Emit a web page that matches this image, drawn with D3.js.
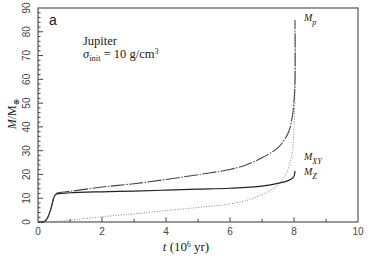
<!DOCTYPE html>
<html lang="en">
<head>
<meta charset="UTF-8">
<title>Jupiter growth</title>
<style>
  body { margin: 0; background: #fff; }
  svg { display: block; }
  .tick-label { font-family: "Liberation Sans", Arial, sans-serif; font-size: 10px; fill: #444; }
  .serif { font-family: "Liberation Serif", "DejaVu Serif", serif; fill: #222; }
</style>
</head>
<body>
<svg width="374" height="258"></svg>
<script src="https://cdn.jsdelivr.net/npm/d3@7"></script>
<script>
// data (t in 10^6 yr, mass in Earth masses)
const tP  = [0, 0.15, 0.22, 0.3, 0.38, 0.45, 0.5, 0.55, 0.62, 0.8, 1, 2, 3, 4, 5, 6, 6.5, 7, 7.3, 7.5, 7.7, 7.85, 7.95, 8.0, 8.03, 8.03];
const mP  = [0, 0, 0.4, 1.8, 4.5, 8, 10.5, 11.8, 12.3, 12.6, 12.9, 14.7, 16.1, 17.9, 19.9, 22.1, 24, 27, 29.3, 31.3, 34.5, 38.5, 44.5, 51, 58, 85];

const tZ  = [0, 0.15, 0.22, 0.3, 0.38, 0.45, 0.5, 0.55, 0.62, 0.8, 1, 2, 3, 4, 5, 6, 7, 7.5, 7.8, 7.95, 8.01, 8.03];
const mZ  = [0, 0, 0.4, 1.8, 4.5, 8, 10.5, 11.5, 11.9, 12.1, 12.3, 12.7, 13.0, 13.4, 13.8, 14.2, 15.1, 16.3, 17.3, 18.4, 19.6, 21.5];

const tXY = [0.4, 0.6, 1, 2, 3, 4, 5, 6, 6.5, 7, 7.3, 7.5, 7.7, 7.85, 7.95, 8.0, 8.03, 8.04];
const mXY = [0, 0.3, 0.8, 2.2, 3.4, 4.8, 6.1, 7.6, 9, 11.5, 13.6, 15.6, 19, 23.5, 30, 40, 55, 80];

const xTicks = [0, 2, 4, 6, 8, 10];
const yTicks = [0, 10, 20, 30, 40, 50, 60, 70, 80, 90];

const svg = d3.select('svg');
const mLeft = 38, mRight = 358, mTop = 8, mBottom = 222;

const x = d3.scaleLinear().domain([0, 10]).range([mLeft, mRight]);
const y = d3.scaleLinear().domain([0, 90]).range([mBottom, mTop]);

// frame
svg.append('rect')
  .attr('x', mLeft).attr('y', mTop)
  .attr('width', mRight - mLeft).attr('height', mBottom - mTop)
  .attr('fill', 'none').attr('stroke', '#555').attr('stroke-width', 1.2);

// x ticks (inward)
const xAxis = svg.append('g').attr('transform', `translate(0,${mBottom})`);
xAxis.selectAll('line').data(d3.range(1, 10, 1)).enter().append('line')
  .attr('x1', d => x(d)).attr('x2', d => x(d))
  .attr('y1', 0).attr('y2', d => d % 2 === 0 ? -5 : -3)
  .attr('stroke', '#444').attr('stroke-width', 1);
xAxis.selectAll('text').data(xTicks).enter().append('text')
  .attr('class', 'tick-label')
  .attr('x', d => x(d)).attr('y', 13)
  .attr('text-anchor', 'middle')
  .text(d => d);

// y ticks (inward)
const yAxis = svg.append('g').attr('transform', `translate(${mLeft},0)`);
yAxis.selectAll('line').data(d3.range(2, 90, 2)).enter().append('line')
  .attr('x1', 0).attr('x2', d => d % 10 === 0 ? 5 : 2.5)
  .attr('y1', d => y(d)).attr('y2', d => y(d))
  .attr('stroke', '#444').attr('stroke-width', 1);
yAxis.selectAll('text').data(yTicks).enter().append('text')
  .attr('class', 'tick-label')
  .attr('transform', d => `translate(-8,${y(d)}) rotate(-90)`)
  .attr('text-anchor', 'middle')
  .text(d => d);

// axis titles
const xt = svg.append('text').attr('class', 'serif')
  .attr('x', 186).attr('y', 251).attr('text-anchor', 'middle')
  .attr('font-size', 13);
xt.append('tspan').attr('font-style', 'italic').text('t');
xt.append('tspan').text(' (10');
xt.append('tspan').attr('font-size', 7.5).attr('dy', -4).text('6');
xt.append('tspan').attr('dy', 4).text(' yr)');

const yt = svg.append('text').attr('class', 'serif')
  .attr('transform', 'translate(16,114) rotate(-90)')
  .attr('text-anchor', 'middle').attr('font-size', 12);
yt.append('tspan').attr('font-style', 'italic').text('M');
yt.append('tspan').text('/M');
yt.append('tspan').attr('font-size', 8).attr('dy', 3).text('⊕');

// panel letter and annotation
svg.append('text')
  .attr('x', 49).attr('y', 25)
  .attr('font-family', '"Liberation Sans", Arial, sans-serif')
  .attr('font-size', 14).attr('fill', '#222')
  .text('a');

svg.append('text').attr('class', 'serif')
  .attr('x', 83).attr('y', 45).attr('font-size', 12.5)
  .text('Jupiter');
const sg = svg.append('text').attr('class', 'serif')
  .attr('x', 83).attr('y', 58).attr('font-size', 12.5);
sg.append('tspan').attr('font-style', 'italic').text('σ');
sg.append('tspan').attr('font-size', 8.5).attr('dy', 2.5).text('init');
sg.append('tspan').attr('dy', -2.5).text(' = 10 g/cm');
sg.append('tspan').attr('font-size', 8).attr('dy', -4.5).text('3');

// curves
const line = d3.line()
  .x(d => x(d[0])).y(d => y(d[1]))
  .curve(d3.curveCatmullRom.alpha(0.5));

svg.append('path')
  .datum(d3.zip(tXY, mXY))
  .attr('d', line)
  .attr('fill', 'none').attr('stroke', '#777')
  .attr('stroke-width', 0.9).attr('stroke-dasharray', '1,1.6');

svg.append('path')
  .datum(d3.zip(tZ, mZ))
  .attr('d', line)
  .attr('fill', 'none').attr('stroke', '#222')
  .attr('stroke-width', 1.2);

svg.append('path')
  .datum(d3.zip(tP, mP))
  .attr('d', line)
  .attr('fill', 'none').attr('stroke', '#444')
  .attr('stroke-width', 1.1).attr('stroke-dasharray', '14,1.5,1.5,1.5');

// curve labels
function curveLabel(px, py, sub) {
  const t = svg.append('text').attr('class', 'serif')
    .attr('x', px).attr('y', py).attr('font-size', 10).attr('font-style', 'italic');
  t.append('tspan').text('M');
  t.append('tspan').attr('font-size', 8).attr('dy', 4).text(sub);
}
curveLabel(304, 21, 'p');
curveLabel(304, 160, 'XY');
curveLabel(304, 175, 'Z');
</script>
</body>
</html>
